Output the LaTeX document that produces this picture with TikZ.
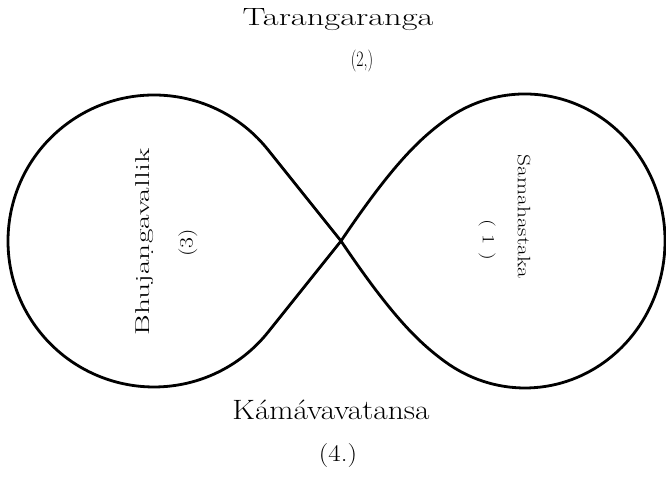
\documentclass[tikz,border=0pt]{standalone}
\usepackage{fontspec}
\usepackage{graphicx}
\usetikzlibrary{calc}
\begin{document}
\begin{tikzpicture}[x=1pt,y=1pt,
  loopline/.style={line width=2.8pt, line join=round},
  lbl/.style={inner sep=0pt, anchor=center}]
\useasboundingbox (0,0) rectangle (666,478);
\coordinate (X) at (341,237);
\coordinate (RC) at (525,237);
\coordinate (LC) at (154,237);
\coordinate (P) at ($(RC)+(125:140 and 147)$);
\coordinate (Q) at ($(RC)+(-125:140 and 147)$);
\coordinate (T3) at ($(LC)+(38.7:146)$);
\draw[loopline] (X) .. controls +(56:92) and +(216.3:32) .. (P)
  arc[start angle=125, end angle=-125, x radius=140, y radius=147]
  .. controls +(143.7:32) and +(-56:92) .. (X)
  -- (T3) arc[start angle=38.7, end angle=321.3, radius=146] -- cycle;
\node[lbl, font=\fontsize{25}{30}\selectfont] (n2) at (338,458) {\scalebox{1.38}[1]{Tarangaranga}};
\node[lbl, font=\fontsize{22}{26}\selectfont] (n2b) at (362,417) {\scalebox{0.72}[1]{(2,)}};
\node[lbl, font=\fontsize{28}{32}\selectfont] (n4) at (331,68) {\scalebox{1.12}[1]{Kámávavatansa}};
\node[lbl, font=\fontsize{24}{28}\selectfont] (n4b) at (338,22) {\scalebox{1.12}[1]{(4.)}};
\node[lbl, rotate=90, font=\fontsize{20}{24}\selectfont] (n3) at (145,236) {\scalebox{1.58}[1]{Bhujaṇgavallik}};
\node[lbl, rotate=90, font=\fontsize{19}{22}\selectfont] (n3b) at (188,235) {\scalebox{1.25}[1]{(3)}};
\node[lbl, rotate=-90, font=\fontsize{18}{22}\selectfont] (n1) at (524,261.5) {\scalebox{1.3}[1]{Samahastaka}};
\node[lbl, rotate=-90, font=\fontsize{17}{22}\selectfont] (n1b) at (487,238) {\scalebox{1.3}[1]{(\,\,1\,\,)}};
\end{tikzpicture}
\end{document}
